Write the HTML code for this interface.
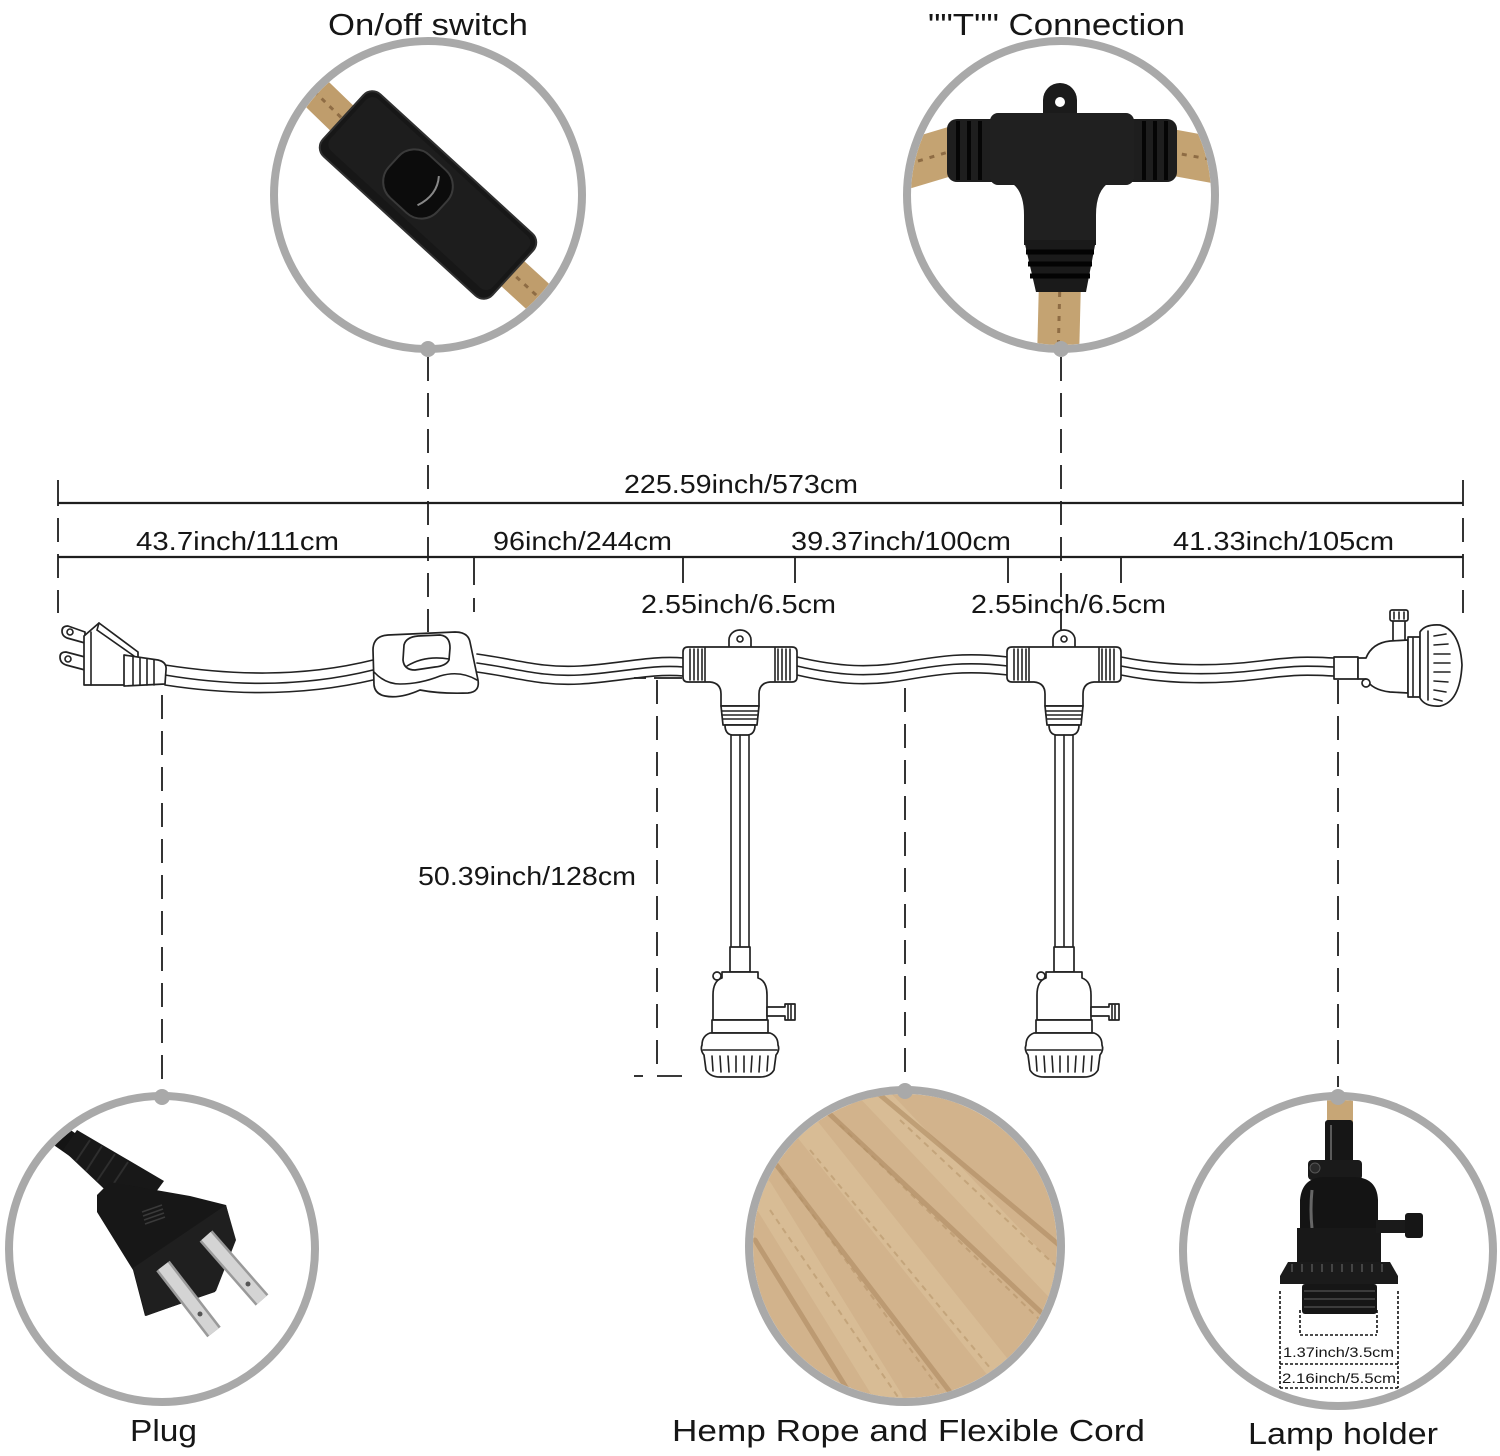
<!DOCTYPE html>
<html><head><meta charset="utf-8"><style>
html,body{margin:0;padding:0;background:#fff;}
svg{display:block;}
text{font-family:"Liberation Sans",Arial,sans-serif;fill:#161616;}
.ln{stroke:#222;stroke-width:1.7;fill:#fff;stroke-linejoin:round;stroke-linecap:round;}
.lo{stroke:#222;stroke-width:1.6;fill:none;stroke-linecap:round;}
.dim{stroke:#1e1e1e;stroke-width:2.2;fill:none;}
.tk{stroke:#1e1e1e;stroke-width:1.8;fill:none;}
.da{stroke:#1e1e1e;stroke-width:1.8;fill:none;stroke-dasharray:24 12;}
.ring{stroke:#a9a9a9;stroke-width:8;fill:none;}
</style></head><body>
<svg width="1500" height="1456" viewBox="0 0 1500 1456" xmlns="http://www.w3.org/2000/svg">
<defs>
<clipPath id="c1"><circle cx="428" cy="195" r="150"/></clipPath>
<clipPath id="c2"><circle cx="1061" cy="195" r="150"/></clipPath>
<clipPath id="c3"><circle cx="162" cy="1249" r="149"/></clipPath>
<clipPath id="c4"><circle cx="905" cy="1246" r="152"/></clipPath>
<clipPath id="c5"><circle cx="1338" cy="1251" r="151"/></clipPath>
</defs>

<!-- Titles -->
<text x="328" y="35" font-size="31" textLength="200" lengthAdjust="spacingAndGlyphs">On/off switch</text>
<text x="928" y="35" font-size="31" textLength="257" lengthAdjust="spacingAndGlyphs">""T"" Connection</text>
<text x="130" y="1441" font-size="31" textLength="67" lengthAdjust="spacingAndGlyphs">Plug</text>
<text x="672" y="1441" font-size="31" textLength="473" lengthAdjust="spacingAndGlyphs">Hemp Rope and Flexible Cord</text>
<text x="1248" y="1444" font-size="31" textLength="190" lengthAdjust="spacingAndGlyphs">Lamp holder</text>

<!-- Switch circle content -->
<g clip-path="url(#c1)">
  <line x1="290" y1="68" x2="352" y2="128" stroke="#bf9d6c" stroke-width="34"/>
  <line x1="290" y1="68" x2="352" y2="128" stroke="#8e6c44" stroke-width="3" stroke-dasharray="5 6"/>
  <line x1="500" y1="262" x2="570" y2="326" stroke="#bf9d6c" stroke-width="34"/>
  <line x1="500" y1="262" x2="570" y2="326" stroke="#8e6c44" stroke-width="3" stroke-dasharray="5 6"/>
  <g transform="translate(428,195) rotate(42.5)">
    <rect x="-115" y="-42" width="230" height="84" rx="12" fill="#171717" stroke="#303030" stroke-width="2"/>
    <rect x="-110" y="-37" width="220" height="70" rx="9" fill="#1d1d1d"/>
  </g>
  <g transform="translate(418,184) rotate(42.5)">
    <rect x="-33" y="-29" width="66" height="58" rx="22" fill="#0c0c0c" stroke="#3a3a3a" stroke-width="2"/>
    <path d="M10,-20 Q22,-5 14,16" stroke="#888" stroke-width="2" fill="none"/>
  </g>
</g>
<circle class="ring" cx="428" cy="195" r="154"/>
<circle cx="428" cy="349" r="8" fill="#a9a9a9"/>

<!-- T circle content -->
<g clip-path="url(#c2)">
  <line x1="895" y1="168" x2="955" y2="150" stroke="#c4a372" stroke-width="48"/>
  <line x1="895" y1="168" x2="955" y2="150" stroke="#8e6c44" stroke-width="3" stroke-dasharray="5 7"/>
  <line x1="1170" y1="152" x2="1225" y2="162" stroke="#c4a372" stroke-width="46"/>
  <line x1="1170" y1="152" x2="1225" y2="162" stroke="#8e6c44" stroke-width="3" stroke-dasharray="5 7"/>
  <line x1="1060" y1="280" x2="1058" y2="360" stroke="#c4a372" stroke-width="42"/>
  <line x1="1060" y1="280" x2="1058" y2="360" stroke="#8e6c44" stroke-width="3" stroke-dasharray="5 7"/>
  <path d="M1043,120 L1043,100 A17,17 0 0 1 1077,100 L1077,120 Z" fill="#1b1b1b"/>
  <circle cx="1060" cy="102" r="5" fill="#fff"/>
  <rect x="947" y="119" width="230" height="63" rx="10" fill="#1e1e1e"/>
  <rect x="990" y="113" width="144" height="72" rx="8" fill="#202020"/>
  <g stroke="#050505" stroke-width="4">
    <line x1="958" y1="121" x2="958" y2="180"/><line x1="969" y1="121" x2="969" y2="180"/><line x1="980" y1="121" x2="980" y2="180"/>
    <line x1="1144" y1="121" x2="1144" y2="180"/><line x1="1155" y1="121" x2="1155" y2="180"/><line x1="1166" y1="121" x2="1166" y2="180"/>
  </g>
  <path d="M1010,182 Q1024,190 1024,215 L1024,245 L1096,245 L1096,215 Q1096,190 1110,182 Z" fill="#202020"/>
  <path d="M1024,240 L1096,240 L1086,292 L1036,292 Z" fill="#1a1a1a"/>
  <g stroke="#030303" stroke-width="5">
    <line x1="1026" y1="252" x2="1094" y2="252"/><line x1="1028" y1="264" x2="1092" y2="264"/><line x1="1030" y1="276" x2="1090" y2="276"/>
  </g>
</g>
<circle class="ring" cx="1061" cy="195" r="154"/>
<circle cx="1061" cy="349" r="8" fill="#a9a9a9"/>

<!-- Plug circle content -->
<g clip-path="url(#c3)">
  <line x1="30" y1="1115" x2="80" y2="1150" stroke="#141414" stroke-width="22"/>
  <polygon points="77,1130 164,1181 136,1219 63,1150" fill="#181818"/>
  <g stroke="#2e2e2e" stroke-width="2">
    <line x1="90" y1="1140" x2="76" y2="1161"/><line x1="102" y1="1146" x2="86" y2="1171"/><line x1="115" y1="1154" x2="97" y2="1181"/><line x1="128" y1="1162" x2="108" y2="1192"/>
  </g>
  <polygon points="97,1195 110,1182 190,1196 226,1205 235,1240 215,1292 145,1316 133,1270 97,1212" fill="#171717"/>
  <polygon points="133,1268 226,1205 236,1240 216,1291 146,1316" fill="#1f1f1f"/>
  <g stroke="#3a3a3a" stroke-width="1.5">
    <line x1="142" y1="1212" x2="162" y2="1205"/><line x1="143" y1="1216" x2="163" y2="1209"/><line x1="144" y1="1220" x2="164" y2="1213"/><line x1="145" y1="1224" x2="165" y2="1217"/>
  </g>
  <line x1="163" y1="1266" x2="214" y2="1332" stroke="#9a9a9a" stroke-width="17"/>
  <line x1="163" y1="1266" x2="214" y2="1332" stroke="#d4d4d4" stroke-width="12"/>
  <line x1="206" y1="1236" x2="262" y2="1300" stroke="#9a9a9a" stroke-width="17"/>
  <line x1="206" y1="1236" x2="262" y2="1300" stroke="#d4d4d4" stroke-width="12"/>
  <circle cx="200" cy="1314" r="2.5" fill="#555"/><circle cx="248" cy="1284" r="2.5" fill="#555"/>
</g>
<circle class="ring" cx="162" cy="1249" r="153"/>
<circle cx="162" cy="1097" r="8" fill="#a9a9a9"/>

<!-- Hemp circle content -->
<g clip-path="url(#c4)">
  <rect x="745" y="1086" width="320" height="320" fill="#d2b38c"/>
  <path d="M940,1086 L1070,1086 L1070,1200 Q1040,1150 985,1108 Z" fill="#f6f2ec"/>
  <path d="M745,1300 Q770,1320 790,1406 L745,1406 Z" fill="#f3eee6"/>
  <g stroke="#dcc39d" stroke-width="26" opacity="0.55" stroke-linecap="round">
    <line x1="760" y1="1190" x2="890" y2="1400"/>
    <line x1="800" y1="1120" x2="1000" y2="1370"/>
    <line x1="870" y1="1090" x2="1060" y2="1290"/>
  </g>
  <g stroke="#a58259" stroke-width="5" opacity="0.5" stroke-linecap="round">
    <line x1="765" y1="1150" x2="960" y2="1405"/>
    <line x1="820" y1="1105" x2="1060" y2="1330"/>
    <line x1="880" y1="1095" x2="1065" y2="1250"/>
    <line x1="755" y1="1240" x2="860" y2="1410"/>
  </g>
  <g stroke="#b08d62" stroke-width="2" opacity="0.5" stroke-dasharray="6 5">
    <line x1="780" y1="1170" x2="940" y2="1390"/>
    <line x1="840" y1="1125" x2="1040" y2="1320"/>
    <line x1="900" y1="1120" x2="1060" y2="1270"/>
    <line x1="770" y1="1210" x2="900" y2="1400"/>
    <line x1="810" y1="1150" x2="1000" y2="1380"/>
  </g>
</g>
<circle class="ring" cx="905" cy="1246" r="156"/>
<circle cx="905" cy="1091" r="8" fill="#a9a9a9"/>

<!-- Lamp holder circle content -->
<g clip-path="url(#c5)">
  <rect x="1327" y="1095" width="26" height="28" fill="#c7a676"/>
  <rect x="1325" y="1120" width="28" height="46" rx="3" fill="#161616"/>
  <line x1="1331" y1="1125" x2="1331" y2="1160" stroke="#5a5a5a" stroke-width="2"/>
  <rect x="1308" y="1160" width="54" height="20" rx="4" fill="#1a1a1a"/>
  <circle cx="1315" cy="1168" r="5" fill="#2a2a2a" stroke="#555"/>
  <path d="M1300,1232 L1300,1200 Q1302,1177 1325,1177 L1353,1177 Q1377,1177 1378,1200 L1378,1232 Z" fill="#141414"/>
  <path d="M1312,1190 Q1310,1210 1312,1228" stroke="#666" stroke-width="3" fill="none"/>
  <rect x="1297" y="1228" width="84" height="34" fill="#181818"/>
  <rect x="1376" y="1220" width="34" height="13" fill="#1a1a1a"/>
  <rect x="1405" y="1213" width="18" height="25" rx="3" fill="#161616"/>
  <path d="M1280,1276 L1288,1262 L1390,1262 L1398,1276 L1398,1284 L1280,1284 Z" fill="#1b1b1b"/>
  <g stroke="#444" stroke-width="2"><line x1="1292" y1="1264" x2="1292" y2="1272"/><line x1="1302" y1="1264" x2="1302" y2="1272"/><line x1="1312" y1="1264" x2="1312" y2="1272"/><line x1="1322" y1="1264" x2="1322" y2="1272"/><line x1="1332" y1="1264" x2="1332" y2="1272"/><line x1="1342" y1="1264" x2="1342" y2="1272"/><line x1="1352" y1="1264" x2="1352" y2="1272"/><line x1="1362" y1="1264" x2="1362" y2="1272"/><line x1="1372" y1="1264" x2="1372" y2="1272"/><line x1="1382" y1="1264" x2="1382" y2="1272"/></g>
  <rect x="1302" y="1284" width="75" height="30" rx="3" fill="#161616"/>
  <g stroke="#3c3c3c" stroke-width="2"><line x1="1304" y1="1291" x2="1375" y2="1291"/><line x1="1304" y1="1299" x2="1375" y2="1299"/><line x1="1304" y1="1307" x2="1375" y2="1307"/></g>
  <g stroke="#111" stroke-width="1.6" stroke-dasharray="3 2" fill="none">
    <line x1="1280" y1="1291" x2="1280" y2="1388"/><line x1="1398" y1="1291" x2="1398" y2="1388"/>
    <line x1="1280" y1="1364" x2="1398" y2="1364"/><line x1="1280" y1="1388" x2="1398" y2="1388"/>
    <line x1="1300" y1="1310" x2="1300" y2="1335"/><line x1="1377" y1="1310" x2="1377" y2="1335"/>
    <line x1="1300" y1="1335" x2="1377" y2="1335"/>
  </g>
  <text x="1283" y="1357" font-size="14" textLength="111" lengthAdjust="spacingAndGlyphs">1.37inch/3.5cm</text>
  <text x="1282" y="1383" font-size="14" textLength="114" lengthAdjust="spacingAndGlyphs">2.16inch/5.5cm</text>
</g>
<circle class="ring" cx="1338" cy="1251" r="155"/>
<circle cx="1338" cy="1097" r="8" fill="#a9a9a9"/>

<!-- Dimension lines -->
<line class="dim" x1="58" y1="503" x2="1463" y2="503"/>
<line class="tk" x1="58" y1="480" x2="58" y2="506"/>
<line class="tk" x1="1463" y1="480" x2="1463" y2="506"/>
<line class="dim" x1="58" y1="557" x2="1463" y2="557"/>
<line class="da" x1="58" y1="518" x2="58" y2="613"/>
<line class="da" x1="1463" y1="518" x2="1463" y2="613"/>
<line class="tk" x1="474" y1="557" x2="474" y2="585"/>
<line class="tk" x1="474" y1="598" x2="474" y2="612"/>
<line class="tk" x1="683" y1="557" x2="683" y2="583"/>
<line class="tk" x1="795" y1="557" x2="795" y2="583"/>
<line class="tk" x1="1008" y1="557" x2="1008" y2="583"/>
<line class="tk" x1="1121" y1="557" x2="1121" y2="583"/>
<line class="da" x1="428" y1="357" x2="428" y2="632"/>
<line class="da" x1="1061" y1="357" x2="1061" y2="640"/>

<text x="624" y="493" font-size="26" textLength="234" lengthAdjust="spacingAndGlyphs">225.59inch/573cm</text>
<text x="136" y="550" font-size="26" textLength="203" lengthAdjust="spacingAndGlyphs">43.7inch/111cm</text>
<text x="493" y="550" font-size="26" textLength="179" lengthAdjust="spacingAndGlyphs">96inch/244cm</text>
<text x="791" y="550" font-size="26" textLength="220" lengthAdjust="spacingAndGlyphs">39.37inch/100cm</text>
<text x="1173" y="550" font-size="26" textLength="221" lengthAdjust="spacingAndGlyphs">41.33inch/105cm</text>
<text x="641" y="613" font-size="26" textLength="195" lengthAdjust="spacingAndGlyphs">2.55inch/6.5cm</text>
<text x="971" y="613" font-size="26" textLength="195" lengthAdjust="spacingAndGlyphs">2.55inch/6.5cm</text>
<text x="418" y="885" font-size="26" textLength="218" lengthAdjust="spacingAndGlyphs">50.39inch/128cm</text>

<!-- Vertical dashed leaders -->
<line class="da" x1="162" y1="695" x2="162" y2="1085"/>
<line class="da" x1="905" y1="688" x2="905" y2="1080"/>
<line class="da" x1="1338" y1="680" x2="1338" y2="1087"/>
<line class="da" x1="657" y1="680" x2="657" y2="1076"/>
<line class="tk" x1="634" y1="678" x2="646" y2="678"/>
<line class="tk" x1="654" y1="678" x2="682" y2="678"/>
<line class="tk" x1="634" y1="1076" x2="643" y2="1076"/>
<line class="tk" x1="657" y1="1076" x2="682" y2="1076"/>

<!-- Cords -->
<g class="lo">
  <path d="M165,665 C230,675 300,678 373,660"/>
  <path d="M165,675 C230,686 300,688 373,670"/>
  <path d="M165,685 C230,695 300,697 373,680"/>
  <path d="M477,654 C520,660 540,668 580,666 S650,655 684,658"/>
  <path d="M477,663 C520,669 540,677 580,675 S650,664 684,667"/>
  <path d="M477,672 C520,678 540,686 580,684 S650,673 684,676"/>
  <path d="M797,657 C840,667 870,668 905,662 S965,652 1008,657"/>
  <path d="M797,666 C840,676 870,677 905,671 S965,661 1008,666"/>
  <path d="M797,675 C840,685 870,686 905,680 S965,670 1008,675"/>
  <path d="M1121,657 C1170,667 1220,666 1260,661 S1310,657 1334,658"/>
  <path d="M1121,666 C1170,676 1220,675 1260,670 S1310,666 1334,667"/>
  <path d="M1121,675 C1170,685 1220,684 1260,679 S1310,675 1334,676"/>
</g>

<!-- Plug line art -->
<path class="ln" d="M85,632 L68,626 Q62,626 62,631 Q62,636 67,638 L85,643 Z"/>
<circle class="lo" cx="70" cy="632" r="3"/>
<path class="ln" d="M85,657 L66,652 Q60,652 60,657 Q60,663 66,665 L85,670 Z"/>
<circle class="lo" cx="68" cy="659" r="3"/>
<path class="ln" d="M84,636 L99,623 L138,652 L138,685 L84,685 Z"/>
<path class="lo" d="M91,632 L91,685 M99,623 L97,630 L134,656"/>
<path class="ln" d="M124,655 L158,660 Q167,662 166,670 L165,684 L124,686 Z"/>
<path class="lo" d="M133,657 L133,685 M140,658 L140,685 M147,659 L147,685 M154,660 L154,685"/>

<!-- Switch line art -->
<path class="ln" d="M373,650 Q373,636 388,635 L455,632 Q468,632 470,642 L478,680 Q480,692 468,693 Q440,694 420,690 Q400,699 385,696 Q375,694 374,685 Z"/>
<path class="lo" d="M374,672 Q385,684 400,684 Q420,684 440,676 Q460,670 477,680"/>
<path class="ln" d="M404,645 Q406,637 418,636 L440,635 Q450,636 450,648 L449,660 Q446,666 435,667 L415,670 Q404,670 403,660 Z"/>
<path class="lo" d="M407,666 Q425,655 449,659"/>

<!-- T connectors with pendant sockets -->
<g id="tee" transform="translate(740,0)">
  <path class="ln" d="M-11,648 L-11,640 A11,10 0 0 1 11,640 L11,648 Z"/>
  <circle class="lo" cx="0" cy="639" r="3"/>
  <path class="ln" d="M-52,647 L52,647 Q57,647 57,652 L57,677 Q57,682 52,682 L30,682 Q19,683 19,694 L19,706 L-19,706 L-19,694 Q-19,683 -30,682 L-52,682 Q-57,682 -57,677 L-57,652 Q-57,647 -52,647 Z"/>
  <path class="lo" d="M-35,648 L-35,681 M-50,649 L-50,680 M-46,649 L-46,680 M-42,649 L-42,680 M-38,649 L-38,680 M35,648 L35,681 M38,649 L38,680 M42,649 L42,680 M46,649 L46,680 M50,649 L50,680"/>
  <path class="ln" d="M-19,706 L19,706 L17,725 L-17,725 Z"/>
  <path class="lo" d="M-18,711 L18,711 M-18,715 L18,715 M-17,719 L17,719"/>
  <path class="ln" d="M-15,725 Q-15,734 -8,735 L8,735 Q15,734 15,725 Z"/>
  <path class="lo" d="M-9,735 L-9,947 M0,735 L0,947 M9,735 L9,947"/>
  <rect class="ln" x="-10" y="947" width="20" height="25"/>
  <path class="ln" d="M-18,972 L-18,978 Q-27,981 -27,995 L-27,1020 L27,1020 L27,995 Q27,981 18,978 L18,972 Z"/>
  <path class="ln" d="M27,1007 L45,1007 L45,1004 L55,1004 L55,1020 L45,1020 L45,1016 L27,1016 Z"/>
  <path class="lo" d="M48,1005 L48,1019 M51,1005 L51,1019"/>
  <rect class="ln" x="-28" y="1020" width="56" height="13"/>
  <path class="ln" d="M-30,1033 L30,1033 Q38,1036 38,1045 Q40,1050 36,1055 L34,1070 Q30,1077 20,1077 L-20,1077 Q-30,1077 -34,1070 L-36,1055 Q-40,1050 -38,1045 Q-38,1036 -30,1033 Z"/>
  <path class="lo" d="M-37,1050 L37,1050 M-28,1056 L-27,1071 M-20,1056 L-19,1072 M-12,1056 L-11,1072 M-4,1056 L-4,1072 M4,1056 L4,1072 M12,1056 L11,1072 M20,1056 L19,1072 M28,1056 L27,1071"/>
  <circle class="ln" cx="-23" cy="976" r="4"/>
</g>
<use href="#tee" transform="translate(324,0)"/>

<!-- Right lamp holder line art -->
<rect class="ln" x="1334" y="657" width="24" height="22"/>
<path class="ln" d="M1393,641 L1393,620 L1405,620 L1405,641 Z"/>
<rect class="ln" x="1390" y="610" width="18" height="11" rx="2"/>
<path class="lo" d="M1394,612 L1394,619 M1399,612 L1399,619 M1404,612 L1404,619"/>
<path class="ln" d="M1358,658 L1366,658 Q1372,643 1390,641 L1408,640 L1408,693 L1390,692 Q1372,690 1366,679 L1358,679 Z"/>
<circle class="ln" cx="1366" cy="683" r="4"/>
<rect class="ln" x="1408" y="637" width="12" height="60"/>
<path class="lo" d="M1413,638 L1413,696"/>
<path class="ln" d="M1420,632 Q1425,624 1440,625 Q1460,630 1462,665 Q1460,702 1440,706 Q1425,707 1420,698 Z"/>
<path class="lo" d="M1428,631 L1428,700 M1434,636 L1446,634 M1434,645 L1448,644 M1434,654 L1450,654 M1434,663 L1450,663 M1434,672 L1450,672 M1434,681 L1448,682 M1434,690 L1446,692 M1434,699 L1442,701"/>
</svg>
</body></html>
